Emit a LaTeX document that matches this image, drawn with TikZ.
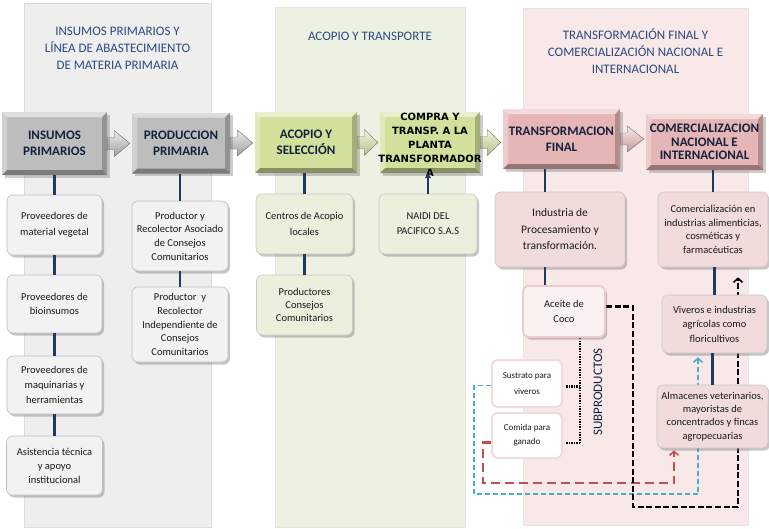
\documentclass[tikz,border=0pt]{standalone}
\usepackage{fontspec}
\setmainfont{Carlito}
\newfontfamily\tahoma{DejaVu Sans}
\usepackage{tikz}
\usetikzlibrary{shadows}
\usetikzlibrary{arrows.meta}
\usetikzlibrary{calc}

\definecolor{navy}{HTML}{1F3864}
\definecolor{titleblue}{HTML}{2A4A7F}
\definecolor{hdtext}{HTML}{14213D}
\definecolor{pgray}{HTML}{BDBDBD}
\definecolor{pgreen}{HTML}{D2E09C}
\definecolor{ppink}{HTML}{E6B5B5}
\definecolor{sgray}{HTML}{F2F2F2}
\definecolor{sgreen}{HTML}{EBF0DD}
\definecolor{spink}{HTML}{F2DCDB}
\definecolor{bgray}{HTML}{EEEEEE}
\definecolor{bgreen}{HTML}{EDF1E3}
\definecolor{bpink}{HTML}{F8E8E8}
\definecolor{dblue}{HTML}{4BACC6}
\definecolor{dred}{HTML}{C0504D}

\pgfdeclarelayer{panel}
\pgfdeclarelayer{behind}
\pgfsetlayers{panel,behind,main}

\newcommand\ppb{path picture bounding box}

\tikzset{
  bevel/.style={path picture={
    \fill [white, opacity=.5] (\ppb.north west) -- (\ppb.north east) -- ([shift={(-5pt,-5pt)}]\ppb.north east) -- ([shift={(5pt,-5pt)}]\ppb.north west) -- cycle;
    \fill [white, opacity=.3] (\ppb.north west) -- (\ppb.south west) -- ([shift={(5pt,5pt)}]\ppb.south west) -- ([shift={(5pt,-5pt)}]\ppb.north west) -- cycle;
    \fill [black, opacity=.35] (\ppb.south west) -- (\ppb.south east) -- ([shift={(-5pt,5pt)}]\ppb.south east) -- ([shift={(5pt,5pt)}]\ppb.south west) -- cycle;
    \fill [black, opacity=.22] (\ppb.north east) -- (\ppb.south east) -- ([shift={(-5pt,5pt)}]\ppb.south east) -- ([shift={(-5pt,-5pt)}]\ppb.north east) -- cycle;}},
  paneltitle/.style={font=\fontsize{13}{17}\selectfont, text=titleblue, align=center, inner sep=0pt, anchor=north},
  proc/.style={font=\bfseries\fontsize{13}{16}\selectfont, text=hdtext, align=center, inner sep=0pt, bevel,
    drop shadow={shadow xshift=2.5pt, shadow yshift=-2.5pt, opacity=.4}},
  chev/.style={draw=#1!55!black, line width=.4pt, top color=#1!30, bottom color=#1!85!black},
  subbox/.style={rounded corners=6pt, align=center, inner sep=2pt, line width=.6pt,
    font=\fontsize{10.5}{14}\selectfont, text=black!90,
    drop shadow={shadow xshift=2pt, shadow yshift=-2.5pt, opacity=.45}},
  subg/.style={subbox, fill=sgray, draw=black!25},
  subv/.style={subbox, fill=sgreen, draw=black!22},
  subr/.style={subbox, fill=spink, draw=black!22},
  acebox/.style={subbox, fill=spink!40, draw=ppink!70, line width=1.8pt},
  byprod/.style={rounded corners=6pt, align=center, inner sep=2pt, fill=white, draw=spink, line width=2pt,
    font=\fontsize{9}{16}\selectfont, text=black!90},
  link/.style={draw=navy, line width=2.2pt},
  dots/.style={line width=2.4pt, dash pattern=on 1.5pt off 1.1pt},
  blackdash/.style={line width=2.6pt, dash pattern=on 6pt off 2.6pt, shorten >=10pt,
    -{Straight Barb[length=4pt,width=9pt,line width=1.6pt]}},
  bluedash/.style={draw=dblue, line width=1.8pt, dash pattern=on 5pt off 3pt, shorten >=4pt,
    -{Straight Barb[length=4pt,width=9pt,line width=1.5pt]}},
  reddash/.style={draw=dred, line width=2.3pt, dash pattern=on 9pt off 5pt, shorten >=2pt,
    -{Straight Barb[length=4pt,width=9pt,line width=1.5pt]}},
}

\begin{document}
\begin{tikzpicture}[x=1pt, y=-1pt]
        \useasboundingbox (0,0) rectangle (769,528);
        %
        \begin{pgfonlayer}{panel}
          \draw [fill=bgray, draw=black!14] (24,3) rectangle (211,527);
          %
          \draw [fill=bgreen, draw=black!10] (275,7) rectangle (465,527);
          %
          \draw [fill=bpink, draw=black!10] (523,8) rectangle (748,525);
        \end{pgfonlayer}
        %
        \node [paneltitle] (tins) at (117.5,27) {INSUMOS PRIMARIOS Y\\LÍNEA DE ABASTECIMIENTO\\DE MATERIA PRIMARIA};
        \node [paneltitle] (tacop) at (370,32) {ACOPIO Y TRANSPORTE};
        \node [paneltitle] (ttrans) at (635.5,28.5) {TRANSFORMACIÓN FINAL Y\\COMERCIALIZACIÓN NACIONAL E\\INTERNACIONAL};
        %
        \node [proc, fill=pgray, minimum width=105pt, minimum height=63pt] (ins) at (54.5,143.5) {INSUMOS\\PRIMARIOS};
        \node [proc, fill=pgray, minimum width=98pt, minimum height=61pt] (prod) at (181,143) {PRODUCCION\\PRIMARIA};
        \node [proc, fill=pgreen, minimum width=102pt, minimum height=61pt] (acop) at (306,142.5) {ACOPIO Y\\SELECCIÓN};
        \node [proc, fill=pgreen, minimum width=100pt, minimum height=61pt] (comp) at (430,142.5) {};
        \node [font=\tahoma\bfseries\fontsize{10}{14}\selectfont, align=center, inner sep=0pt] (comptxt)
          at ([yshift=-2pt]comp.center) {COMPRA Y\\TRANSP. A LA\\PLANTA\\TRANSFORMADOR\\A};
        \node [proc, fill=ppink, minimum width=117pt, minimum height=60pt] (trans) at (561.5,139) {TRANSFORMACION\\FINAL};
        \node [proc, fill=ppink, minimum width=117pt, minimum height=56pt, font=\bfseries\fontsize{13}{13.5}\selectfont] (come)
          at (704.5,142) {COMERCIALIZACION\\NACIONAL E\\INTERNACIONAL};
        %
        \begin{pgfonlayer}{behind}
          \foreach \a/\b/\c in {ins/prod/pgray, prod/acop/pgray, acop/comp/pgreen, comp/trans/pgreen, trans/come/ppink}
            \draw [chev=\c] ($(\a.east)+(0pt,6pt)$) -- ($(\a.east)+(7pt,6pt)$) -- ($(\a.east)+(7pt,13pt)$)
              -- ($(\b.west |- \a.east)+(-2pt,0pt)$) -- ($(\a.east)+(7pt,-13pt)$) -- ($(\a.east)+(7pt,-6pt)$)
              -- ($(\a.east)+(0pt,-6pt)$) -- cycle;
        \end{pgfonlayer}
        %
        \node [subg, minimum width=95pt, minimum height=60pt, font=\fontsize{10.5}{16}\selectfont] (pv1) at (54.5,225) {Proveedores de\\material vegetal};
        \node [subg, minimum width=95pt, minimum height=58pt] (pv2) at (54.5,304) {Proveedores de\\bioinsumos};
        \node [subg, minimum width=95pt, minimum height=58pt, font=\fontsize{10.5}{15}\selectfont] (pv3) at (54.5,385) {Proveedores de\\maquinarias y\\herramientas};
        \node [subg, minimum width=96pt, minimum height=59pt] (pv4) at (54.5,465.5) {Asistencia técnica\\y apoyo\\institucional};
        %
        \node [subg, minimum width=96pt, minimum height=70pt, font=\fontsize{10.5}{13.7}\selectfont] (pr1) at (180,236) {Productor y\\Recolector Asociado\\de Consejos\\Comunitarios};
        \node [subg, minimum width=96pt, minimum height=75pt, font=\fontsize{10.5}{13.7}\selectfont] (pr2) at (180,324.5) {Productor~ y\\Recolector\\Independiente de\\Consejos\\Comunitarios};
        %
        \node [subv, minimum width=97pt, minimum height=60pt, font=\fontsize{10.5}{16.5}\selectfont] (ac1) at (304.5,224) {Centros de Acopio\\locales};
        \node [subv, minimum width=96pt, minimum height=60pt, font=\fontsize{10.5}{13}\selectfont] (ac2) at (304.5,305) {Productores\\Consejos\\Comunitarios};
        \node [subv, minimum width=98pt, minimum height=60pt, font=\fontsize{10.5}{15}\selectfont] (naidi) at (428,224) {NAIDI DEL\\PACIFICO S.A.S};
        %
        \node [subr, minimum width=130pt, minimum height=75pt, font=\fontsize{11.5}{16.5}\selectfont] (ind) at (560,229.5) {Industria de\\Procesamiento y\\transformación.};
        \node [acebox, minimum width=82pt, minimum height=51pt, font=\fontsize{10.5}{15}\selectfont] (ace) at (564,311.5) {Aceite de\\Coco};
        \node [byprod, minimum width=70pt, minimum height=47pt] (sus) at (527,383.5) {Sustrato para\\viveros};
        \node [byprod, minimum width=70pt, minimum height=45pt, font=\fontsize{9}{14}\selectfont] (comd) at (527,435.5) {Comida para\\ganado};
        \node [rotate=90, font=\fontsize{13}{13}\selectfont, text=hdtext, inner sep=0pt] (subtxt) at (598,392) {SUBPRODUCTOS};
        %
        \node [subr, minimum width=110pt, minimum height=75pt, font=\fontsize{10.5}{13.7}\selectfont] (com) at (713,229.5) {Comercialización en\\industrias alimenticias,\\cosméticas y\\farmacéuticas};
        \node [subr, minimum width=105pt, minimum height=58pt, font=\fontsize{10.5}{14.5}\selectfont] (viv) at (714.5,324) {Viveros e industrias\\agrícolas como\\floricultivos};
        \node [subr, minimum width=111pt, minimum height=63pt, font=\fontsize{10.5}{13.5}\selectfont] (alm) at (712.5,416.5) {Almacenes veterinarios,\\mayoristas de\\concentrados y fincas\\agropecuarias};
        %
        \foreach \a/\b in {ins/pv1, pv1/pv2, pv2/pv3, pv3/pv4, prod/pr1, pr1/pr2, acop/ac1, ac1/ac2, come/com, com/viv, viv/alm}
          \draw [link] (\a.south -| \b.north) -- (\b.north);
        %
        \coordinate (c5) at (545,0);
        \draw [link] (trans.south -| c5) -- (ind.north -| c5);
        \draw [link] (ind.south -| c5) -- (ace.north -| c5);
        \draw [link, -{Triangle[length=5pt,width=6pt]}] (naidi.north) -- (naidi.north |- comp.south);
        %
        \begin{pgfonlayer}{behind}
          \coordinate (dt) at (580,443);
          \draw [dots] (ace.south -| dt) -- (dt);
          \draw [dots, shorten <=3pt] ([yshift=-3pt]sus.east) -- ([yshift=-3pt]sus.east -| dt);
          \draw [dots, shorten <=3pt] (comd.east |- dt) -- (dt);
          %
          \coordinate (rd1) at (483,483);
          \coordinate (rd2) at (674,483);
          \draw [reddash] ([yshift=-7pt]comd.west) -| (rd1) -- (rd2) -- (rd2 |- alm.south);
          %
          \coordinate (bl1) at (474,494);
          \coordinate (bl2) at (698,494);
          \draw [bluedash] ([yshift=-2pt]sus.west) -| (bl1) -- (bl2) -- (bl2 |- viv.south);
          %
          \coordinate (bk1) at (633,507);
          \coordinate (bk2) at (738,507);
          \draw [blackdash] ([yshift=5pt]ace.east) -| (bk1) -- (bk2) -- (bk2 |- com.south);
        \end{pgfonlayer}
\end{tikzpicture}
\end{document}
